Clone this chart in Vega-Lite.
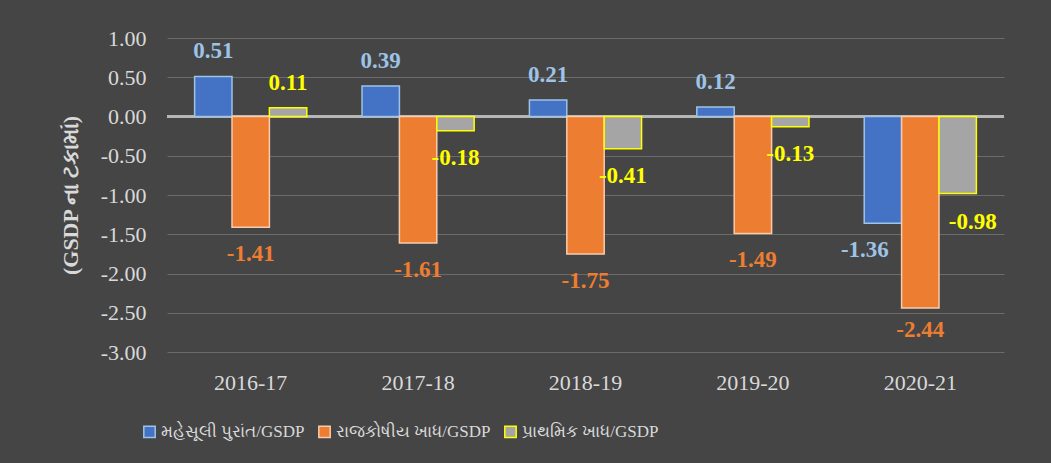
{
  "$schema": "https://vega.github.io/schema/vega-lite/v6.json",
  "width": 837,
  "height": 314,
  "autosize": {"type": "none"},
  "padding": {"left": 167, "top": 38, "right": 47, "bottom": 111},
  "background": "#454545",
  "config": {
    "view": {"stroke": null},
    "font": "Liberation Serif",
    "locale": {
      "number": {"decimal": ".", "thousands": ",", "grouping": [3], "currency": ["", ""], "minus": "-"}
    }
  },
  "data": {
    "values": [
      {"year": "2016-17", "series": "મહેસૂલી પુરાંત/GSDP", "value": 0.51},
      {"year": "2016-17", "series": "રાજકોષીય ખાધ/GSDP", "value": -1.41},
      {"year": "2016-17", "series": "પ્રાથમિક ખાધ/GSDP", "value": 0.11},
      {"year": "2017-18", "series": "મહેસૂલી પુરાંત/GSDP", "value": 0.39},
      {"year": "2017-18", "series": "રાજકોષીય ખાધ/GSDP", "value": -1.61},
      {"year": "2017-18", "series": "પ્રાથમિક ખાધ/GSDP", "value": -0.18},
      {"year": "2018-19", "series": "મહેસૂલી પુરાંત/GSDP", "value": 0.21},
      {"year": "2018-19", "series": "રાજકોષીય ખાધ/GSDP", "value": -1.75},
      {"year": "2018-19", "series": "પ્રાથમિક ખાધ/GSDP", "value": -0.41},
      {"year": "2019-20", "series": "મહેસૂલી પુરાંત/GSDP", "value": 0.12},
      {"year": "2019-20", "series": "રાજકોષીય ખાધ/GSDP", "value": -1.49},
      {"year": "2019-20", "series": "પ્રાથમિક ખાધ/GSDP", "value": -0.13},
      {"year": "2020-21", "series": "મહેસૂલી પુરાંત/GSDP", "value": -1.36},
      {"year": "2020-21", "series": "રાજકોષીય ખાધ/GSDP", "value": -2.44},
      {"year": "2020-21", "series": "પ્રાથમિક ખાધ/GSDP", "value": -0.98}
    ]
  },
  "encoding": {
    "x": {
      "field": "year", "type": "nominal",
      "scale": {"paddingInner": 0.33, "paddingOuter": 0.165},
      "axis": {
        "title": null, "labelAngle": 0, "ticks": false, "domain": false, "grid": false,
        "labelFont": "Liberation Serif", "labelFontSize": 22, "labelColor": "#d9d9d9",
        "labelPadding": 20
      }
    },
    "xOffset": {
      "field": "series", "type": "nominal",
      "sort": ["મહેસૂલી પુરાંત/GSDP", "રાજકોષીય ખાધ/GSDP", "પ્રાથમિક ખાધ/GSDP"],
      "scale": {"paddingInner": 0, "paddingOuter": 0}
    },
    "y": {
      "field": "value", "type": "quantitative",
      "scale": {"domain": [-3, 1], "nice": false},
      "axis": {
        "values": [-3, -2.5, -2, -1.5, -1, -0.5, 0, 0.5, 1],
        "format": ".2f",
        "title": "(GSDP ના ટકામાં)",
        "titleFont": "Liberation Serif", "titleFontSize": 22, "titleFontWeight": "bold",
        "titleColor": "#d9d9d9", "titlePadding": 18,
        "labelFont": "Liberation Serif", "labelFontSize": 22, "labelColor": "#d9d9d9",
        "labelPadding": 21, "ticks": false, "domain": false,
        "gridColor": "#6b6b6b", "gridWidth": 1
      }
    }
  },
  "layer": [
    {
      "mark": {"type": "rule", "color": "#b8b8b8", "strokeWidth": 1.5},
      "encoding": {"y": {"datum": 0}, "x": null, "xOffset": null}
    },
    {
      "mark": {"type": "bar", "strokeWidth": 1.5},
      "encoding": {
        "fill": {
          "field": "series", "type": "nominal",
          "sort": ["મહેસૂલી પુરાંત/GSDP", "રાજકોષીય ખાધ/GSDP", "પ્રાથમિક ખાધ/GSDP"],
          "scale": {
            "domain": ["મહેસૂલી પુરાંત/GSDP", "રાજકોષીય ખાધ/GSDP", "પ્રાથમિક ખાધ/GSDP"],
            "range": ["#4472c4", "#ed7d31", "#a5a5a5"]
          },
          "legend": {
            "title": null, "orient": "none", "direction": "horizontal",
            "legendX": -26, "legendY": 385,
            "symbolType": "square", "symbolSize": 130, "symbolStrokeWidth": 1.5,
            "labelFont": "Liberation Serif", "labelFontSize": 17, "labelColor": "#d9d9d9",
            "labelLimit": 400, "columnPadding": 10, "labelOffset": 3
          }
        },
        "stroke": {
          "field": "series", "type": "nominal",
          "scale": {
            "domain": ["મહેસૂલી પુરાંત/GSDP", "રાજકોષીય ખાધ/GSDP", "પ્રાથમિક ખાધ/GSDP"],
            "range": ["#9dc3e6", "#f8cbad", "#ffff00"]
          },
          "legend": {
            "title": null, "orient": "none", "direction": "horizontal",
            "legendX": -26, "legendY": 385,
            "symbolType": "square", "symbolSize": 130, "symbolStrokeWidth": 1.5,
            "labelFont": "Liberation Serif", "labelFontSize": 17, "labelColor": "#d9d9d9",
            "labelLimit": 400, "columnPadding": 10, "labelOffset": 3
          }
        }
      }
    },
    {
      "transform": [{"filter": "datum.value >= 0"}],
      "mark": {"type": "text", "fontSize": 23, "fontWeight": "bold", "font": "Liberation Serif", "baseline": "middle", "dy": -25},
      "encoding": {
        "text": {"field": "value", "type": "quantitative", "format": ".2f"},
        "color": {
          "field": "series", "type": "nominal",
          "scale": {
            "domain": ["મહેસૂલી પુરાંત/GSDP", "રાજકોષીય ખાધ/GSDP", "પ્રાથમિક ખાધ/GSDP"],
            "range": ["#9dc3e6", "#ed7d31", "#ffff00"]
          },
          "legend": null
        }
      }
    },
    {
      "transform": [{"filter": "datum.value < 0 && datum.year != '2020-21'"}],
      "mark": {"type": "text", "fontSize": 23, "fontWeight": "bold", "font": "Liberation Serif", "baseline": "middle", "dy": 27},
      "encoding": {
        "text": {"field": "value", "type": "quantitative", "format": ".2f"},
        "color": {
          "field": "series", "type": "nominal",
          "scale": {
            "domain": ["મહેસૂલી પુરાંત/GSDP", "રાજકોષીય ખાધ/GSDP", "પ્રાથમિક ખાધ/GSDP"],
            "range": ["#9dc3e6", "#ed7d31", "#ffff00"]
          },
          "legend": null
        }
      }
    },
    {
      "transform": [{"filter": "datum.year == '2020-21' && datum.series == 'મહેસૂલી પુરાંત/GSDP'"}],
      "mark": {"type": "text", "fontSize": 23, "fontWeight": "bold", "font": "Liberation Serif", "baseline": "middle", "dy": 27, "dx": -18},
      "encoding": {
        "text": {"field": "value", "type": "quantitative", "format": ".2f"},
        "color": {
          "field": "series", "type": "nominal",
          "scale": {
            "domain": ["મહેસૂલી પુરાંત/GSDP", "રાજકોષીય ખાધ/GSDP", "પ્રાથમિક ખાધ/GSDP"],
            "range": ["#9dc3e6", "#ed7d31", "#ffff00"]
          },
          "legend": null
        }
      }
    },
    {
      "transform": [{"filter": "datum.year == '2020-21' && datum.series == 'રાજકોષીય ખાધ/GSDP'"}],
      "mark": {"type": "text", "fontSize": 23, "fontWeight": "bold", "font": "Liberation Serif", "baseline": "middle", "dy": 22},
      "encoding": {
        "text": {"field": "value", "type": "quantitative", "format": ".2f"},
        "color": {
          "field": "series", "type": "nominal",
          "scale": {
            "domain": ["મહેસૂલી પુરાંત/GSDP", "રાજકોષીય ખાધ/GSDP", "પ્રાથમિક ખાધ/GSDP"],
            "range": ["#9dc3e6", "#ed7d31", "#ffff00"]
          },
          "legend": null
        }
      }
    },
    {
      "transform": [{"filter": "datum.year == '2020-21' && datum.series == 'પ્રાથમિક ખાધ/GSDP'"}],
      "mark": {"type": "text", "fontSize": 23, "fontWeight": "bold", "font": "Liberation Serif", "baseline": "middle", "dy": 29, "dx": 15},
      "encoding": {
        "text": {"field": "value", "type": "quantitative", "format": ".2f"},
        "color": {
          "field": "series", "type": "nominal",
          "scale": {
            "domain": ["મહેસૂલી પુરાંત/GSDP", "રાજકોષીય ખાધ/GSDP", "પ્રાથમિક ખાધ/GSDP"],
            "range": ["#9dc3e6", "#ed7d31", "#ffff00"]
          },
          "legend": null
        }
      }
    }
  ]
}
